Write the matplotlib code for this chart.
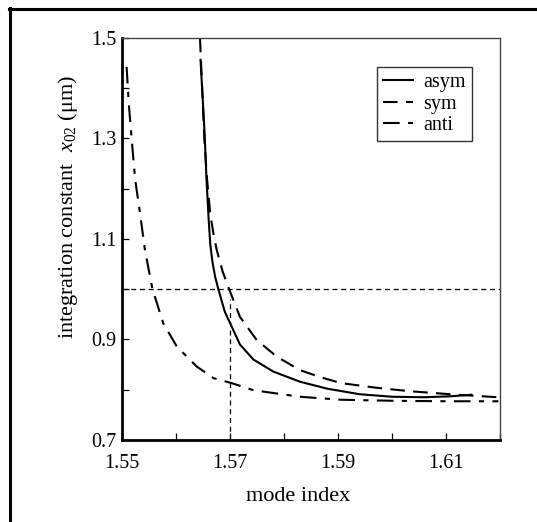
import matplotlib
matplotlib.use("Agg")
import matplotlib.pyplot as plt
from matplotlib.lines import Line2D
import numpy as np

plt.rcParams['font.family'] = ['Liberation Serif', 'DejaVu Serif']
plt.rcParams['mathtext.fontset'] = 'custom'
plt.rcParams['mathtext.rm'] = 'Liberation Serif'
plt.rcParams['mathtext.it'] = 'Liberation Serif:italic'

# curves
asym_x = [1.5645, 1.5649, 1.5653, 1.5656, 1.5660, 1.5663, 1.5667, 1.5672,
          1.5678, 1.5690, 1.5703, 1.5718, 1.5743, 1.5780, 1.5829, 1.5880,
          1.5940, 1.6000, 1.6060, 1.6110, 1.6147]
asym_y = [1.456, 1.38, 1.30, 1.22, 1.14, 1.09, 1.055, 1.025,
          1.000, 0.955, 0.925, 0.890, 0.860, 0.836, 0.816, 0.802,
          0.791, 0.786, 0.785, 0.787, 0.790]

sym_x = [1.5644, 1.5648, 1.5652, 1.5657, 1.5663, 1.5669, 1.5675, 1.5686,
         1.5698, 1.5718, 1.5749, 1.5786, 1.5829, 1.5870, 1.5906, 1.5970,
         1.6033, 1.6120, 1.6197]
sym_y = [1.500, 1.40, 1.30, 1.22, 1.15, 1.11, 1.078, 1.035,
         1.000, 0.945, 0.899, 0.866, 0.839, 0.824, 0.813, 0.804,
         0.797, 0.790, 0.785]

anti_x = [1.5508, 1.5512, 1.5517, 1.5524, 1.5533, 1.5542, 1.5556, 1.5576,
          1.5601, 1.5638, 1.5669, 1.5703, 1.5743, 1.5829, 1.5906, 1.6000,
          1.6100, 1.6197]
anti_y = [1.442, 1.37, 1.303, 1.217, 1.15, 1.078, 1.000, 0.932,
          0.886, 0.846, 0.823, 0.813, 0.799, 0.786, 0.780, 0.778,
          0.777, 0.777]

ref_x = 1.57
ref_y = 1.0

fig = plt.figure(figsize=(5.37, 5.22), dpi=100)
ax = fig.add_axes([0.2277, 0.1571, 0.7034, 0.7707])

ax.plot(asym_x, asym_y, color='black', lw=1.5, ls='-', label='asym')
ax.plot(sym_x, sym_y, color='black', lw=1.5, ls=(0, (7, 4)), label='sym')
ax.plot(anti_x, anti_y, color='black', lw=1.5, ls=(0, (8, 4, 2.5, 4)), label='anti')

ax.axhline(ref_y, color='black', lw=0.9, ls=(0, (4, 3)))
ax.plot([ref_x, ref_x], [0.7, 0.98], color='black', lw=0.9, ls=(0, (4, 3)))

ax.set_xlim(1.55, 1.62)
ax.set_ylim(0.7, 1.5)
ax.set_xticks(np.arange(1.55, 1.615, 0.02))
ax.set_xticklabels(['1.55', '1.57', '1.59', '1.61'])
ax.set_xticks(np.arange(1.55, 1.625, 0.01), minor=True)
ax.set_yticks([0.7, 0.9, 1.1, 1.3, 1.5])
ax.set_yticklabels(['0.7', '0.9', '1.1', '1.3', '1.5'])
ax.set_yticks(np.arange(0.7, 1.55, 0.1), minor=True)
ax.tick_params(which='both', direction='in', length=5, width=0.9, labelsize=14.5,
               top=False, right=False)
ax.tick_params(axis='x', pad=10)
ax.tick_params(axis='y', pad=4)

for s in ['left', 'bottom']:
    ax.spines[s].set_linewidth(2.0)
for s in ['top', 'right']:
    ax.spines[s].set_linewidth(1.0)
    ax.spines[s].set_color('#444444')

ax.set_xlabel('mode index', fontsize=16)
ax.xaxis.set_label_coords(0.465, -0.118)
ax.set_ylabel(r'integration constant  $\mathit{x}_{\mathrm{02}}$ ($\mathrm{\mu}$m)',
              fontsize=16)
ax.yaxis.set_label_coords(-0.112, 0.579)

leg = ax.legend(loc='upper right', bbox_to_anchor=(0.926, 0.927), fontsize=14.5,
                frameon=True, fancybox=False, edgecolor='black', handlelength=1.5,
                handletextpad=0.5, borderpad=0.3, labelspacing=0.12, borderaxespad=0)
leg.get_frame().set_linewidth(1.0)

# partial frame round the figure
fig.add_artist(Line2D([9 / 537, 1.0], [1 - 8.5 / 522, 1 - 8.5 / 522],
                      transform=fig.transFigure, color='black', lw=2.2))
fig.add_artist(Line2D([10 / 537, 10 / 537], [0.0, 1 - 7.5 / 522],
                      transform=fig.transFigure, color='black', lw=2.2))

fig.savefig('out.png', dpi=100)
